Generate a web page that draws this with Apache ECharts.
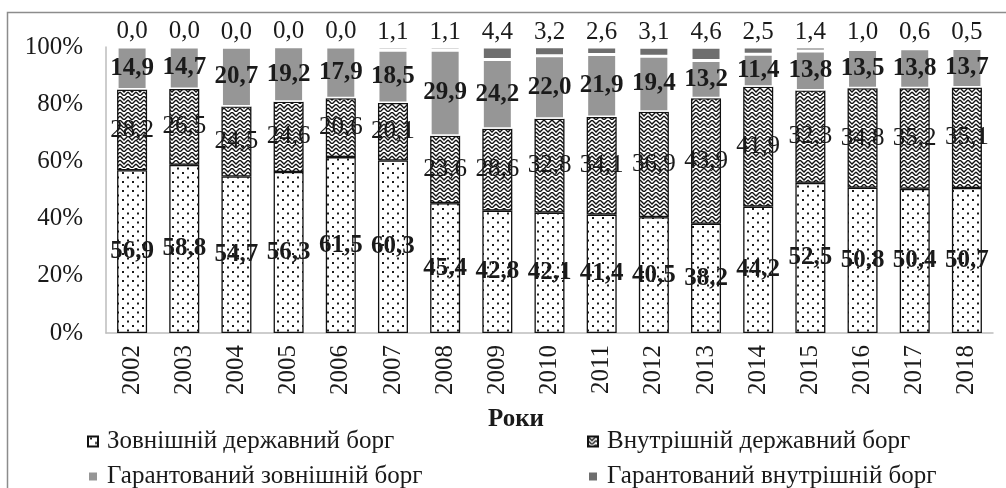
<!DOCTYPE html>
<html>
<head>
<meta charset="utf-8">
<script src="https://cdn.jsdelivr.net/npm/echarts@6/dist/echarts.min.js"></script>
<style>
html,body{margin:0;padding:0;background:#fff;}
#chart{width:1006px;height:488px;}
</style>
</head>
<body>
<div id="chart"></div>
<script>
const years = ['2002','2003','2004','2005','2006','2007','2008','2009','2010','2011','2012','2013','2014','2015','2016','2017','2018'];
const externalDebt = [56.9,58.8,54.7,56.3,61.5,60.3,45.4,42.8,42.1,41.4,40.5,38.2,44.2,52.5,50.8,50.4,50.7];
const internalDebt = [28.2,26.5,24.5,24.6,20.6,20.1,23.6,28.6,32.8,34.1,36.9,43.9,41.9,32.3,34.8,35.2,35.1];
const guarExternal = [14.9,14.7,20.7,19.2,17.9,18.5,29.9,24.2,22.0,21.9,19.4,13.2,11.4,13.8,13.5,13.8,13.7];
const guarInternal = [0.0,0.0,0.0,0.0,0.0,1.1,1.1,4.4,3.2,2.6,3.1,4.6,2.5,1.4,1.0,0.6,0.5];
const yTicks = [0,20,40,60,80,100];
const names = ['Зовнішній державний борг','Внутрішній державний борг','Гарантований зовнішній борг','Гарантований внутрішній борг'];

const FONT = "'Liberation Serif','Times New Roman',serif";
const FS = 25;

function dotPattern(){
  const c = document.createElement('canvas');
  c.width = 10; c.height = 9;
  const g = c.getContext('2d');
  g.fillStyle = '#fff'; g.fillRect(0,0,10,9);
  g.fillStyle = '#1a1a1a';
  g.fillRect(2,1,2,2);
  g.fillRect(7,5.5,2,2);
  return c;
}
function zigPattern(){
  const c = document.createElement('canvas');
  c.width = 8; c.height = 8;
  const g = c.getContext('2d');
  g.fillStyle = '#fff'; g.fillRect(0,0,8,8);
  g.strokeStyle = '#111'; g.lineWidth = 1.4;
  g.beginPath();
  g.moveTo(0,0); g.lineTo(4,4); g.lineTo(8,0);
  g.moveTo(0,4); g.lineTo(4,8); g.lineTo(8,4);
  g.stroke();
  return c;
}
const fmt = p => p.value.toFixed(1).replace('.', ',');

const chart = echarts.init(document.getElementById('chart'), null, {renderer:'canvas'});
const labelBase = {fontFamily: FONT, fontSize: FS, color: '#1a1a1a'};
function legendAt(name, left, top){
  return {
    data: [name], left: left, top: top, padding: 0,
    itemWidth: 10, itemHeight: 10, icon: 'rect',
    textStyle: {fontFamily: FONT, fontSize: FS, color: '#1a1a1a', padding: [0,0,0,4]}
  };
}
chart.setOption({
  animation: false,
  backgroundColor: '#fff',
  textStyle: {fontFamily: FONT},
  graphic: [{
    type: 'rect', silent: true,
    shape: {x: 7.5, y: 12.5, width: 1010, height: 500},
    style: {fill: 'none', stroke: '#8c8c8c', lineWidth: 1.5}
  }],
  title: {
    text: 'Роки', left: 488, top: 407, padding: 0,
    textStyle: {fontFamily: FONT, fontSize: FS, fontWeight: 'bold', color: '#1a1a1a'}
  },
  grid: {left: 106, right: 13, top: 47, bottom: 155},
  legend: [
    legendAt(names[0], 87, 429),
    legendAt(names[2], 87, 464),
    legendAt(names[1], 587, 429),
    legendAt(names[3], 587, 464)
  ],
  xAxis: {
    type: 'category', data: years,
    axisLine: {lineStyle: {color: '#bdbdbd', width: 1.5}},
    axisTick: {show: false},
    axisLabel: {rotate: 90, margin: 12, fontFamily: FONT, fontSize: FS, color: '#1a1a1a'}
  },
  yAxis: {
    type: 'value', min: yTicks[0], max: yTicks[yTicks.length-1], interval: yTicks[1]-yTicks[0],
    axisLine: {show: true, lineStyle: {color: '#bdbdbd', width: 1.5}},
    axisTick: {show: false},
    splitLine: {show: false},
    axisLabel: {formatter: '{value}%', margin: 23, fontFamily: FONT, fontSize: FS, color: '#1a1a1a'}
  },
  series: [{
    name: names[0], type: 'bar', stack: 'a', barWidth: 30, clip: false, data: externalDebt,
    itemStyle: {color: {image: dotPattern(), repeat: 'repeat'}, borderColor: '#111', borderWidth: 1.3},
    label: Object.assign({show: true, position: 'inside', fontWeight: 'bold', formatter: fmt}, labelBase)
  },{
    name: names[1], type: 'bar', stack: 'a', barWidth: 30, clip: false, data: internalDebt,
    itemStyle: {color: {image: zigPattern(), repeat: 'repeat'}, borderColor: '#111', borderWidth: 1.3},
    label: Object.assign({show: true, position: 'inside', formatter: fmt}, labelBase)
  },{
    name: names[2], type: 'bar', stack: 'a', barWidth: 30, clip: false, data: guarExternal,
    itemStyle: {color: '#969696', borderColor: '#fff', borderWidth: 1.5},
    label: Object.assign({show: true, position: 'inside', fontWeight: 'bold', formatter: fmt}, labelBase)
  },{
    name: names[3], type: 'bar', stack: 'a', barWidth: 30, clip: false, data: guarInternal,
    itemStyle: {color: '#6e6e6e', borderColor: '#fff', borderWidth: 1.5},
    label: Object.assign({show: true, position: 'top', distance: 2, formatter: fmt}, labelBase)
  }]
});
</script>
</body>
</html>
